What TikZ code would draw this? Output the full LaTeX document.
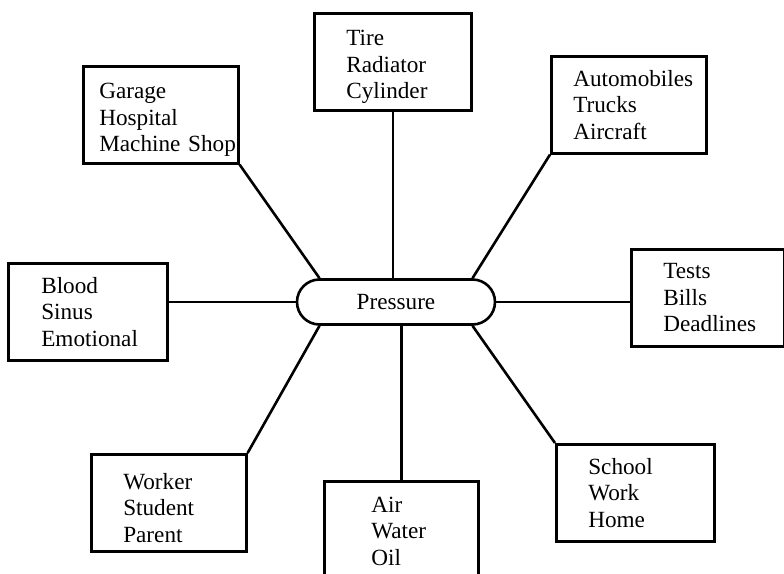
\documentclass[tikz,border=0pt]{standalone}
\usepackage{fontspec}
\setmainfont{Liberation Serif}
\usetikzlibrary{shapes.misc}

\begin{document}
\begin{tikzpicture}[x=0.5pt, y=-0.5pt,
        every node/.style={font=\fontsize{11.6}{13.2}\selectfont},
        box/.style={draw, line width=1.3pt, anchor=north west, align=left, inner sep=0pt, minimum height=48.5pt},
        lowtext/.style={execute at begin node={\rule{0pt}{13pt}}},
        link/.style={line width=1.3pt}]
        \useasboundingbox (0,0) rectangle (784,574);
        \clip (0,0) rectangle (784,574);
        \node[draw, line width=1.3pt, rounded rectangle, minimum width=99pt, minimum height=22.5pt, inner sep=0pt] (pressure) at (396,302) {Pressure};
        \node[box, lowtext, minimum width=78.5pt, text width=46.5pt] (parts) at (313,12) {Tire\\Radiator\\Cylinder};
        \node[box, lowtext, minimum width=77.5pt, text width=61.5pt] (places) at (82,65) {Garage\\Hospital\\Machine~Shop};
        \node[box, minimum width=77.5pt, text width=55.5pt] (vehicles) at (550,55) {Automobiles\\Trucks\\Aircraft};
        \node[box, minimum width=79.5pt, text width=46.5pt] (body) at (7,262) {Blood\\Sinus\\Emotional};
        \node[box, minimum width=76.5pt, text width=44.5pt] (duties) at (630,248) {Tests\\Bills\\Deadlines};
        \node[box, lowtext, minimum width=77.5pt, text width=45.5pt] (people) at (90,453) {Worker\\Student\\Parent};
        \node[box, minimum width=77pt, text width=30pt, minimum height=50pt] (fluids) at (323,480) {Air\\Water\\Oil};
        \node[box, minimum width=79pt, text width=47pt] (routine) at (555,443) {School\\Work\\Home};
        \draw[link] (parts.south) -- (parts.south |- pressure.north);
        \draw[link] (places.south east) -- (pressure.north west);
        \draw[link] (vehicles.south west) -- (pressure.north east);
        \draw[link] (body.east |- pressure.west) -- (pressure.west);
        \draw[link] (pressure.east) -- (pressure.east -| duties.west);
        \draw[link] (people.north east) -- (pressure.south west);
        \draw[link] (fluids.north) -- (fluids.north |- pressure.south);
        \draw[link] (routine.north west) -- (pressure.south east);
\end{tikzpicture}
\end{document}
